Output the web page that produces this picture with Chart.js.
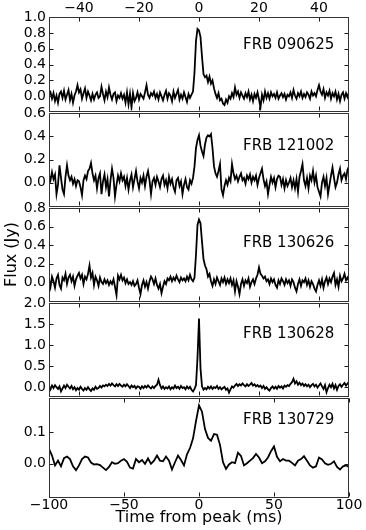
<!DOCTYPE html>
<html><head><meta charset="utf-8">
<script src="https://cdn.jsdelivr.net/npm/chart.js@4.4.1/dist/chart.umd.min.js"></script>
<style>
html,body{margin:0;padding:0;background:#fff;}
#wrap{position:relative;width:366px;height:530px;overflow:hidden;background:#fff;}
#wrap canvas{position:absolute;left:0;}
</style></head><body><div id="wrap"></div>
<script>
// ---- data ----
const burstNames = ['FRB 090625', 'FRB 121002', 'FRB 130626', 'FRB 130628', 'FRB 130729'];
// sampling of the curves (ms)
const narrowStart = -50, narrowStep = 0.5;   // panels 1-4
const wideStart = -100, wideStep = 2;        // panel 5

const flux090625 = [
 0.02,0.05,-0.03,0.04,-0.06,0.01,-0.08,0.03,0.06,-0.02,
 0.07,-0.04,0.02,0.08,-0.05,0.03,-0.08,0.01,0.06,0.14,
 0.05,0.09,-0.03,0.04,0.10,-0.02,0.06,0.01,-0.05,0.03,
 -0.04,0.02,0.05,-0.02,0.00,0.12,0.03,-0.05,0.06,-0.01,
 0.11,0.02,-0.04,0.03,0.05,-0.06,0.01,-0.02,0.04,-0.03,
 0.02,-0.08,0.05,-0.10,0.03,-0.14,0.04,-0.06,-0.02,0.05,
 -0.04,0.03,0.00,-0.03,0.05,0.14,0.02,-0.02,0.04,0.01,
 0.06,-0.02,0.03,-0.04,0.05,0.00,-0.05,0.02,0.07,-0.03,
 0.04,0.01,-0.06,0.06,-0.02,0.03,0.08,-0.04,0.02,-0.03,
 0.05,-0.01,-0.07,0.03,-0.02,0.02,0.06,0.30,0.70,0.85,
 0.83,0.75,0.50,0.28,0.24,0.26,0.18,0.25,0.16,0.20,
 0.10,0.03,-0.02,0.04,-0.05,-0.03,-0.09,-0.11,-0.04,-0.08,
 0.00,-0.03,0.04,-0.01,0.11,0.02,0.06,-0.02,0.05,0.01,
 -0.03,0.04,-0.01,0.06,-0.04,0.02,-0.06,0.03,-0.02,0.05,
 -0.04,-0.14,0.02,-0.05,0.06,-0.02,0.04,-0.03,0.05,0.00,
 0.03,-0.02,0.05,-0.03,0.01,0.04,-0.01,0.03,-0.04,0.02,
 0.00,0.05,-0.02,0.08,0.01,-0.03,0.04,0.00,0.06,-0.02,
 0.03,-0.01,0.05,0.02,-0.03,0.06,0.01,0.04,0.00,0.08,
 0.14,0.06,0.02,0.09,-0.02,0.05,0.01,0.07,-0.03,0.04,
 0.00,0.06,-0.04,0.03,-0.06,0.02,0.05,-0.03,0.04,-0.01,
 0.05];

const flux121002 = [
 0.06,0.02,0.09,0.03,0.07,-0.10,-0.02,0.15,0.04,-0.06,
 -0.10,0.05,0.15,0.06,0.02,0.05,-0.01,0.03,-0.03,0.02,
 0.01,-0.04,-0.11,0.02,0.06,0.03,0.10,0.12,0.17,0.08,
 0.02,0.06,-0.05,0.04,0.08,-0.10,0.01,0.07,-0.04,0.03,
 -0.12,0.02,0.12,0.04,-0.12,-0.02,0.06,0.01,0.08,0.02,
 0.05,-0.03,0.04,-0.06,0.02,0.07,-0.04,0.03,0.10,0.01,
 -0.05,0.04,0.00,0.06,-0.03,0.05,0.10,0.02,-0.10,0.01,
 0.04,-0.02,0.05,0.01,-0.04,0.03,0.06,-0.02,0.02,-0.05,
 0.05,-0.01,0.03,-0.04,-0.08,0.02,0.04,-0.03,0.01,-0.10,
 -0.02,0.03,-0.04,-0.06,0.02,-0.01,0.04,0.14,0.30,0.37,
 0.41,0.32,0.27,0.23,0.33,0.39,0.41,0.40,0.42,0.30,
 0.14,0.08,0.05,0.10,0.16,-0.06,-0.11,-0.03,0.02,-0.02,
 0.04,0.01,0.16,0.08,0.03,0.06,0.01,0.05,0.08,0.02,
 0.04,-0.01,0.06,0.03,0.07,0.00,0.05,0.02,0.06,-0.02,
 0.04,0.08,0.12,0.03,-0.03,0.01,-0.10,-0.02,0.05,0.00,
 0.04,-0.04,0.03,0.06,0.05,-0.02,0.03,-0.05,0.02,-0.03,
 0.00,0.04,-0.04,0.02,-0.05,0.03,-0.08,0.05,0.10,0.16,
 0.02,-0.03,0.04,-0.05,0.06,0.02,0.10,0.00,0.06,-0.04,
 -0.08,-0.12,0.00,0.05,-0.03,0.04,-0.10,-0.02,0.06,0.13,
 0.04,-0.04,0.00,0.07,0.12,0.02,0.06,0.08,0.03,0.11,
 0.14];

const flux130626 = [
 0.03,-0.05,0.06,0.01,-0.06,0.04,0.08,-0.03,-0.07,0.05,
 0.02,0.09,-0.02,0.05,0.08,0.01,0.06,-0.04,0.03,0.07,
 0.10,0.04,0.08,-0.02,0.06,0.03,0.09,0.18,0.05,0.10,
 -0.03,0.06,0.02,-0.04,0.05,0.00,-0.02,0.03,-0.01,0.02,
 -0.03,0.01,-0.02,0.03,-0.05,-0.14,0.07,0.03,0.08,0.02,
 0.05,-0.01,0.03,-0.02,0.00,-0.03,0.01,-0.04,-0.02,0.02,
 -0.06,-0.13,-0.03,0.02,-0.05,0.00,-0.07,0.01,0.06,0.03,
 -0.02,0.04,-0.03,-0.07,-0.02,-0.12,-0.05,0.01,-0.02,0.04,
 0.02,0.06,0.01,0.05,0.02,0.07,0.03,0.00,0.05,0.02,
 0.04,0.01,0.06,0.02,0.08,0.03,0.01,0.05,0.30,0.62,
 0.68,0.64,0.44,0.25,0.18,0.14,0.06,0.09,0.01,-0.04,
 0.03,-0.02,0.05,0.01,-0.03,0.04,0.00,0.05,-0.02,0.03,
 -0.01,0.04,-0.03,0.02,-0.10,0.01,-0.05,-0.13,-0.02,0.03,
 -0.04,0.02,-0.01,0.04,-0.05,0.00,0.03,-0.02,0.04,0.08,
 0.16,0.09,0.07,0.04,0.06,0.01,0.03,-0.02,0.04,0.00,
 0.03,-0.03,-0.06,0.02,-0.02,0.04,0.01,-0.03,0.03,-0.01,
 0.02,-0.04,0.03,0.00,-0.06,-0.10,-0.02,0.03,-0.04,0.02,
 0.00,0.04,-0.03,0.02,-0.05,0.01,-0.02,-0.07,-0.10,-0.03,
 0.02,-0.04,0.03,-0.06,0.01,0.05,-0.02,0.04,0.00,0.06,
 0.10,-0.03,0.03,-0.05,0.07,0.01,0.04,0.09,0.02,0.05,
 0.01];

const flux130628 = [
 0.03,-0.05,0.04,-0.02,0.05,0.00,-0.04,0.02,-0.10,-0.03,
 0.04,-0.02,0.06,0.01,-0.03,0.03,-0.05,0.00,-0.07,-0.02,
 -0.06,0.01,-0.04,-0.08,-0.02,-0.06,0.00,-0.05,-0.09,-0.03,
 -0.06,0.01,-0.04,-0.02,0.03,-0.01,0.04,0.02,0.06,0.03,
 0.08,0.04,0.09,0.05,0.02,0.07,0.03,0.08,0.04,0.01,
 0.06,0.02,0.07,0.03,-0.02,0.04,0.00,0.03,-0.03,0.02,
 0.01,-0.04,0.02,-0.02,0.03,-0.01,0.04,0.00,-0.03,0.02,
 -0.02,0.03,0.06,0.18,0.05,-0.03,0.02,-0.04,0.00,-0.03,
 0.02,-0.05,0.00,-0.03,0.04,-0.02,0.01,-0.04,0.03,-0.02,
 0.00,-0.05,0.02,-0.03,0.01,-0.06,-0.10,-0.04,0.05,0.70,
 1.64,0.45,0.02,-0.06,-0.02,-0.05,0.01,-0.03,0.02,-0.04,
 0.00,-0.02,0.03,-0.04,0.00,-0.05,-0.02,0.01,-0.06,-0.03,
 -0.13,-0.05,0.02,-0.01,0.04,0.08,0.03,0.07,0.04,0.09,
 0.05,0.02,0.07,0.03,0.06,0.10,0.04,0.07,0.02,0.05,
 0.01,0.04,-0.02,0.03,-0.04,0.00,-0.05,-0.08,-0.02,0.02,
 -0.03,0.01,-0.04,0.03,-0.01,0.02,-0.03,0.04,0.01,0.05,
 0.03,0.08,0.12,0.20,0.09,0.14,0.06,0.11,0.05,0.09,
 0.03,0.07,0.02,0.06,0.00,0.05,0.08,0.02,0.06,-0.01,
 0.04,0.09,0.02,-0.04,0.05,-0.12,-0.02,0.06,0.00,0.08,
 -0.03,0.05,-0.06,0.03,0.07,0.01,0.06,0.10,0.04,0.09,
 0.13];

const flux130729 = [
 0.047,0.026,-0.005,0.010,-0.008,0.018,0.023,0.015,-0.008,-0.020,
 -0.005,0.015,0.023,0.020,0.004,-0.002,-0.001,-0.004,-0.012,-0.020,
 -0.010,0.005,0.000,0.002,0.010,0.015,0.006,-0.012,-0.015,0.015,
 0.005,0.012,0.000,0.017,0.000,0.010,0.026,0.010,0.008,0.023,
 0.010,-0.018,0.005,0.026,0.012,-0.005,0.030,0.050,0.080,0.135,
 0.185,0.165,0.110,0.082,0.073,0.094,0.092,0.060,0.005,-0.016,
 -0.002,0.005,0.002,0.035,0.025,-0.005,0.002,0.010,0.018,0.031,
 0.020,0.002,0.008,0.020,0.040,0.055,0.022,0.008,0.015,0.010,
 0.010,0.003,-0.005,0.010,0.015,0.024,0.010,-0.005,-0.012,-0.008,
 0.020,0.014,0.002,-0.003,0.000,0.008,-0.010,-0.018,-0.008,-0.005,
 -0.010];

// tick values
const xTicksNarrow = [-40, -20, 0, 20, 40];
const xTicksWide = [-100, -50, 0, 50, 100];
const yTicks090625 = [0.0, 0.2, 0.4, 0.6, 0.8, 1.0];
const yTicks121002 = [0.0, 0.2, 0.4, 0.6];
const yTicks130626 = [0.0, 0.2, 0.4, 0.6, 0.8];
const yTicks130628 = [0.0, 0.5, 1.0, 1.5, 2.0];
const yTicks130729 = [0.0, 0.1];
const yAxisTitle = 'Flux (Jy)';
const xAxisTitle = 'Time from peak (ms)';

// ---- layout / panels ----
const FONT = '"DejaVu Sans", sans-serif';
Chart.defaults.font.family = FONT;
Chart.defaults.color = '#000';

const panels = [
  {name: burstNames[0], flux: flux090625, t0: narrowStart, dt: narrowStep, ymin: -0.18, ymax: 1.0, yTicks: yTicks090625, xTicks: xTicksNarrow, xmin: -50, xmax: 50, xAxis: 'top', top: 17, bottom: 112, labelDy: 31.5},
  {name: burstNames[1], flux: flux121002, t0: narrowStart, dt: narrowStep, ymin: -0.2, ymax: 0.6, yTicks: yTicks121002, xTicks: xTicksNarrow, xmin: -50, xmax: 50, xAxis: 'none', top: 112, bottom: 207, labelDy: 36.5},
  {name: burstNames[2], flux: flux130626, t0: narrowStart, dt: narrowStep, ymin: -0.2, ymax: 0.8, yTicks: yTicks130626, xTicks: xTicksNarrow, xmin: -50, xmax: 50, xAxis: 'none', top: 207, bottom: 302, labelDy: 39, yTitle: true},
  {name: burstNames[3], flux: flux130628, t0: narrowStart, dt: narrowStep, ymin: -0.2, ymax: 2.0, yTicks: yTicks130628, xTicks: xTicksNarrow, xmin: -50, xmax: 50, xAxis: 'none', top: 302, bottom: 397, labelDy: 35},
  {name: burstNames[4], flux: flux130729, t0: wideStart, dt: wideStep, ymin: -0.105, ymax: 0.207, yTicks: yTicks130729, xTicks: xTicksWide, xmin: -100, xmax: 100, xAxis: 'bottom', top: 397, bottom: 497, labelDy: 25.8}
];

const fmtX = v => (v < 0 ? '\u2212' + Math.abs(v) : String(v));

const framePlugin = {
  id: 'frame',
  afterDatasetsDraw(chart, args, opts) {
    const {ctx, chartArea: a, scales: {x, y}} = chart;
    ctx.save();
    ctx.strokeStyle = '#1a1a1a';
    ctx.lineWidth = 1;
    const L = 4;
    const l = Math.round(a.left) + 0.5, r = Math.round(a.right) - 0.5;
    const t = Math.round(a.top) + 0.5, b = Math.round(a.bottom) - 0.5;
    ctx.beginPath();
    opts.xTicks.forEach(v => {
      const px = Math.round(x.getPixelForValue(v)) + 0.5;
      ctx.moveTo(px, t); ctx.lineTo(px, t + L);
      ctx.moveTo(px, b); ctx.lineTo(px, b - L);
    });
    y.ticks.forEach(tk => {
      const py = Math.round(y.getPixelForValue(tk.value)) + 0.5;
      ctx.moveTo(l, py); ctx.lineTo(l + L, py);
      ctx.moveTo(r, py); ctx.lineTo(r - L, py);
    });
    ctx.stroke();
    ctx.strokeStyle = '#333';
    ctx.strokeRect(l, t, r - l, b - t + 1);
    ctx.fillStyle = '#000';
    ctx.font = '15px ' + FONT;
    ctx.textAlign = 'left';
    ctx.textBaseline = 'alphabetic';
    ctx.fillText(opts.name, a.left + 194, a.top + opts.labelDy);
    ctx.restore();
  }
};

const wrap = document.getElementById('wrap');
panels.forEach((p, i) => {
  const cTop = i === 0 ? 0 : p.top - 10;
  const cBottom = i === panels.length - 1 ? 530 : p.bottom + 10;
  const canvas = document.createElement('canvas');
  canvas.width = 366; canvas.height = cBottom - cTop;
  canvas.style.top = cTop + 'px';
  canvas.style.width = '366px'; canvas.style.height = (cBottom - cTop) + 'px';
  wrap.appendChild(canvas);

  const points = p.flux.map((v, k) => ({x: p.t0 + k * p.dt, y: v}));
  const xShown = p.xAxis !== 'none';
  new Chart(canvas, {
    type: 'line',
    data: {datasets: [{data: points, borderColor: '#000', borderWidth: 1.8, pointRadius: 0, tension: 0, fill: false}]},
    options: {
      responsive: false, animation: false, devicePixelRatio: 1,
      layout: {padding: {top: i === 0 ? 0 : 10, bottom: i === panels.length - 1 ? 0 : 10, left: 0, right: 17}},
      plugins: {legend: {display: false}, tooltip: {enabled: false},
        frame: {xTicks: p.xTicks, name: p.name, labelDy: p.labelDy}},
      scales: {
        x: {
          type: 'linear', min: p.xmin, max: p.xmax,
          display: xShown, position: xShown ? p.xAxis : 'bottom',
          grid: {display: false, drawTicks: false}, border: {display: false},
          afterBuildTicks: s => { s.ticks = p.xTicks.map(v => ({value: v})); },
          afterFit: s => { s.height = p.xAxis === 'top' ? 17 : (p.xAxis === 'bottom' ? 33 : 0); },
          ticks: {autoSkip: false, maxRotation: 0, padding: 0, font: {size: 14}, color: '#000', callback: v => fmtX(v)},
          title: {display: p.xAxis === 'bottom', text: xAxisTitle, font: {size: 16}, color: '#000', padding: {top: 0, bottom: 2.4}}
        },
        y: {
          type: 'linear', min: p.ymin, max: p.ymax, position: 'left',
          grid: {display: false, drawTicks: false}, border: {display: false},
          afterBuildTicks: s => { s.ticks = p.yTicks.map(v => ({value: v})); },
          afterFit: s => { s.width = 49; },
          ticks: {autoSkip: false, padding: 3, font: {size: 14}, color: '#000', callback: v => v.toFixed(1)},
          title: {display: !!p.yTitle, text: yAxisTitle, font: {size: 16}, color: '#000', padding: {top: 2.4, bottom: 0}}
        }
      }
    },
    plugins: [framePlugin]
  });
});
</script></body></html>
